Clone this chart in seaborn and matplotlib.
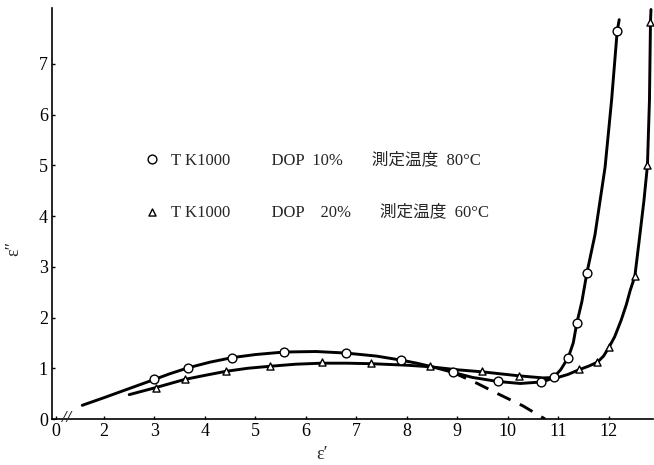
import numpy as np
import pandas as pd
import matplotlib
matplotlib.use("Agg")
import matplotlib.pyplot as plt
import seaborn as sns

# ---- data ----
# DOP 10 %, 80 C (circles): measured points
c_x = [3.0, 3.67, 4.54, 5.57, 6.79, 7.89, 8.91, 9.80, 10.67, 10.91, 11.20, 11.37, 11.57, 12.17]
c_y = [0.78, 1.01, 1.21, 1.32, 1.30, 1.16, 0.92, 0.74, 0.73, 0.82, 1.21, 1.89, 2.88, 7.64]
# traced curve through them
c_curve_x = [1.57, 2.0, 2.5, 3.0, 3.3, 3.67, 4.1, 4.54, 5.0, 5.57, 6.2, 6.79, 7.4, 7.89, 8.2, 8.5, 8.91,
             9.3, 9.80, 10.25, 10.67, 10.80, 10.91, 11.05, 11.20, 11.30, 11.37, 11.47, 11.57, 11.73, 11.93,
             12.06, 12.17, 12.21]
c_curve_y = [0.27, 0.42, 0.60, 0.78, 0.89, 1.01, 1.12, 1.21, 1.27, 1.32, 1.33, 1.30, 1.24, 1.16, 1.10, 1.03, 0.92,
             0.82, 0.74, 0.70, 0.73, 0.77, 0.82, 0.97, 1.21, 1.50, 1.89, 2.31, 2.88, 3.63, 4.96,
             6.29, 7.64, 7.87]
# dashed extrapolation
d_x = [8.91, 9.40, 9.80, 10.30, 10.74]
d_y = [0.92, 0.70, 0.50, 0.26, 0.0]

# DOP 20 %, 60 C (triangles): measured points
t_x = [3.03, 3.60, 4.42, 5.30, 6.32, 7.30, 8.46, 9.49, 10.23, 11.41, 11.78, 12.0, 12.52, 12.77, 12.83]
t_y = [0.62, 0.78, 0.94, 1.04, 1.12, 1.10, 1.04, 0.94, 0.85, 0.98, 1.12, 1.42, 2.81, 5.0, 7.82]
t_curve_x = [2.50, 3.03, 3.60, 4.0, 4.42, 4.85, 5.30, 5.8, 6.32, 6.8, 7.30, 8.0, 8.46, 9.0, 9.49, 10.23, 10.7,
             11.0, 11.2, 11.41, 11.6, 11.78, 11.9, 12.0, 12.12, 12.25, 12.35, 12.43, 12.52, 12.62, 12.70,
             12.77, 12.81, 12.83, 12.84]
t_curve_y = [0.48, 0.62, 0.78, 0.86, 0.94, 1.00, 1.04, 1.08, 1.10, 1.10, 1.09, 1.06, 1.03, 0.97, 0.93, 0.85, 0.81,
             0.82, 0.88, 0.97, 1.04, 1.12, 1.24, 1.40, 1.62, 1.95, 2.25, 2.54, 2.81, 3.63, 4.30,
             5.0, 6.29, 7.82, 8.07]

label_10 = "T K1000          DOP  10%       測定温度  80°C"
label_20 = "T K1000          DOP    20%       測定温度  60°C"

x_ticks = [1.05, 2, 3, 4, 5, 6, 7, 8, 9, 10, 11, 12]
x_ticklabels = ["0", "2", "3", "4", "5", "6", "7", "8", "9", "10", "11", "12"]
y_ticks = [0, 1, 2, 3, 4, 5, 6, 7]

# ---- styling ----
sns.set_style("ticks")
plt.rcParams["font.family"] = ["Liberation Serif", "Noto Sans CJK JP"]
plt.rcParams["font.size"] = 12

fig = plt.figure(figsize=(6.54, 4.65), dpi=100)
ax = fig.add_axes([52 / 654, 46 / 465, 601 / 654, 411 / 465])

lw = 2.1
sns.lineplot(x=c_curve_x, y=c_curve_y, ax=ax, color="black", lw=lw, sort=False, estimator=None)
sns.lineplot(x=t_curve_x, y=t_curve_y, ax=ax, color="black", lw=lw, sort=False, estimator=None)
ax.plot(d_x, d_y, color="black", lw=lw, linestyle=(0, (5, 3.5)))

sns.scatterplot(x=c_x, y=c_y, ax=ax, marker="o", s=40, facecolor="white",
                edgecolor="black", linewidth=1.0, zorder=5, label=label_10)
sns.scatterplot(x=t_x, y=t_y, ax=ax, marker="^", s=26, facecolor="white",
                edgecolor="black", linewidth=1.0, zorder=5, label=label_20)

ax.set_xlim(0.97, 12.88)
ax.set_ylim(0, 8.1)
ax.set_xticks(x_ticks)
ax.set_xticklabels(x_ticklabels)
ax.set_yticks(y_ticks)
ax.tick_params(direction="in", length=2.5, width=1, labelsize=13, pad=3, colors="black")
for s in ["top", "right"]:
    ax.spines[s].set_visible(False)
for s in ["left", "bottom"]:
    ax.spines[s].set_linewidth(1.2)
    ax.spines[s].set_color("black")

# axis break mark on the x axis
ax.text(1.25, 0.02, "//", ha="center", va="center", fontsize=12, fontweight="bold",
        fontstyle="italic", clip_on=False)

ax.set_xlabel("ε′", fontsize=13)
ax.set_ylabel("ε″", fontsize=13)
ax.xaxis.set_label_coords(0.449, -0.066)
ax.yaxis.set_label_coords(-0.050, 0.416)

leg = ax.legend(frameon=False, loc="upper left", bbox_to_anchor=(0.153, 0.65),
                borderaxespad=0, borderpad=0, handlelength=1.0, handletextpad=0.6,
                labelspacing=2.2, fontsize=12)

fig.savefig("out.png", dpi=100)
